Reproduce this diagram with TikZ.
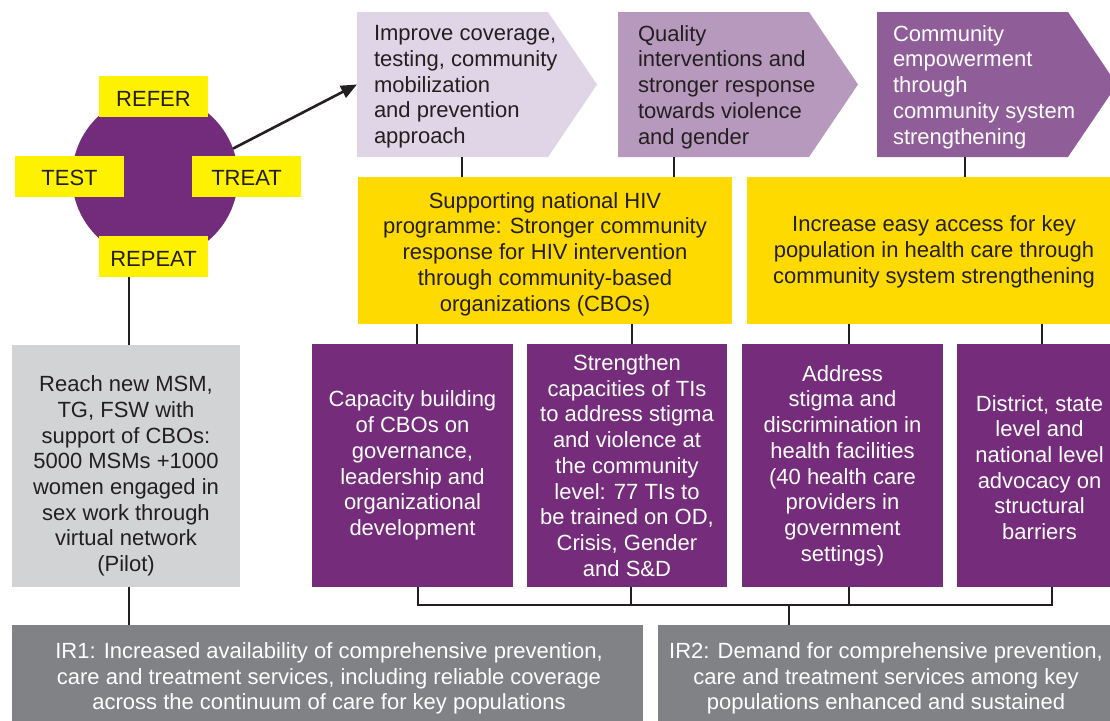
\documentclass[tikz,border=0pt]{standalone}
\usepackage{fontspec}
\setmainfont{Liberation Sans}
\usetikzlibrary{arrows.meta}
\definecolor{ink}{HTML}{231F20}
\definecolor{tagyellow}{HTML}{FFF200}
\definecolor{hubpurple}{HTML}{732C7B}
\definecolor{paleGrey}{HTML}{D1D3D4}
\definecolor{chevA}{HTML}{DFD5E6}
\definecolor{chevB}{HTML}{B899BE}
\definecolor{chevC}{HTML}{8F5E99}
\definecolor{goldbox}{HTML}{FFDA00}
\definecolor{deepPurple}{HTML}{742C7B}
\definecolor{irGrey}{HTML}{808285}
\begin{document}
\begin{tikzpicture}[x=1pt,y=-1pt,
  every node/.style={font=\fontsize{22}{25.7}\selectfont, inner sep=0pt, outer sep=0pt},
  tag/.style={fill=tagyellow, minimum width=109pt, minimum height=41pt},
  panel/.style={minimum height=#1},
  label text/.style={align=center},
  chevbox/.style={minimum width=191pt, minimum height=145pt},
  chevtext/.style={anchor=west, align=left},
  link/.style={draw=ink, line width=2.6pt}
]
\useasboundingbox (0,0) rectangle (1110,720);

% test-treat-refer-repeat hub
\node[circle, fill=hubpurple, minimum size=166pt] (hub) at (155,177) {};
\node[tag] (refer)  at (153.5,96.5) {};
\node[tag] (test)   at (69.5,176)   {};
\node[tag] (treat)  at (246.5,176)  {};
\node[tag] (repeat) at (153.5,256.5) {};
\node[text=ink] (referT)  at (153.5,98.5) {REFER};
\node[text=ink] (testT)   at (69.5,178)   {TEST};
\node[text=ink] (treatT)  at (246.5,178)  {TREAT};
\node[text=ink] (repeatT) at (153.5,258.5) {REPEAT};

% pilot box
\node[panel=242pt, minimum width=228pt, fill=paleGrey] (reach) at (126,466) {};
\node[label text, text=ink] (reachT) at (126,476)
  {Reach new MSM,\\TG, FSW with\\support of CBOs:\\5000 MSMs +1000\\women engaged in\\sex work through\\virtual network\\(Pilot)};

% chevrons
\node[chevbox] (c1) at (452.5,84.5) {};
\node[chevbox] (c2) at (713.5,84.5) {};
\node[chevbox] (c3) at (972.5,84.5) {};
\fill[chevA] (c1.north west) -- (c1.north east) -- ([xshift=49pt]c1.east) -- (c1.south east) -- (c1.south west) -- cycle;
\fill[chevB] (c2.north west) -- (c2.north east) -- ([xshift=49pt]c2.east) -- (c2.south east) -- (c2.south west) -- cycle;
\fill[chevC] (c3.north west) -- (c3.north east) -- ([xshift=49pt]c3.east) -- (c3.south east) -- (c3.south west) -- cycle;
\node[chevtext, text=ink] (c1t) at (374,87)
  {Improve coverage,\\testing, community\\mobilization\\and prevention\\approach};
\node[chevtext, text=ink] (c2t) at (638,87)
  {Quality\\interventions and\\stronger response\\towards violence\\and gender};
\node[chevtext, text=white] (c3t) at (893,87)
  {Community\\empowerment\\through\\community system\\strengthening};

% strategy boxes
\node[panel=147pt, minimum width=374pt, fill=goldbox] (y1) at (545,250.5) {};
\node[panel=147pt, minimum width=374pt, fill=goldbox] (y2) at (934,250.5) {};
\node[label text, text=ink] (y1T) at (545,254)
  {Supporting national HIV\\programme: Stronger community\\response for HIV intervention\\through community-based\\organizations (CBOs)};
\node[label text, text=ink] (y2T) at (934,252)
  {Increase easy access for key\\population in health care through\\community system strengthening};

% activity boxes
\node[panel=243pt, minimum width=201pt, fill=deepPurple] (p1) at (412.5,465.5) {};
\node[panel=243pt, minimum width=200pt, fill=deepPurple] (p2) at (627,465.5) {};
\node[panel=243pt, minimum width=201pt, fill=deepPurple] (p3) at (842.5,465.5) {};
\node[panel=243pt, minimum width=165pt, fill=deepPurple] (p4) at (1039.5,465.5) {};
\node[label text, text=white] (p1T) at (412.5,465.5)
  {Capacity building\\of CBOs on\\governance,\\leadership and\\organizational\\development};
\node[label text, text=white] (p2T) at (627,465.5)
  {Strengthen\\capacities of TIs\\to address stigma\\and violence at\\the community\\level: 77 TIs to\\be trained on OD,\\Crisis, Gender\\and S\&D};
\node[label text, text=white] (p3T) at (842.5,465.5)
  {Address\\stigma and\\discrimination in\\health facilities\\(40 health care\\providers in\\government\\settings)};
\node[label text, text=white] (p4T) at (1039.5,467.5)
  {District, state\\level and\\national level\\advocacy on\\structural\\barriers};

% results
\node[panel=100pt, minimum width=631pt, fill=irGrey] (ir1) at (327.5,675) {};
\node[panel=100pt, minimum width=452pt, fill=irGrey] (ir2) at (884,675) {};
\node[label text, text=white] (ir1T) at (329,678.5)
  {IR1: Increased availability of comprehensive prevention,\\care and treatment services, including reliable coverage\\across the continuum of care for key populations};
\node[label text, text=white] (ir2T) at (886,678.5)
  {IR2: Demand for comprehensive prevention,\\care and treatment services among key\\populations enhanced and sustained};

% connectors
\draw[link, -{Triangle[length=16pt,width=13pt]}] (hub.20) -- (c1.west);
\draw[link] ([xshift=3pt]reach.north) -- ([xshift=3pt]reach.north |- repeat.south);
\draw[link] ([xshift=3pt]reach.south) -- ([xshift=3pt]reach.south |- ir1.north);

\draw[link] ([xshift=9.5pt]c1.south) -- ([xshift=9.5pt]c1.south |- y1.north);
\draw[link] ([xshift=-39.5pt]c2.south) -- ([xshift=-39.5pt]c2.south |- y1.north);
\draw[link] ([xshift=-7.5pt]c3.south) -- ([xshift=-7.5pt]c3.south |- y2.north);

\draw[link] ([xshift=4.5pt]p1.north) -- ([xshift=4.5pt]p1.north |- y1.south);
\draw[link] ([xshift=5pt]p2.north) -- ([xshift=5pt]p2.north |- y1.south);
\draw[link] ([xshift=6.5pt]p3.north) -- ([xshift=6.5pt]p3.north |- y2.south);
\draw[link] ([xshift=2.5pt]p4.north) -- ([xshift=2.5pt]p4.north |- y2.south);

\coordinate (bus) at (789,605);
\draw[link] ([xshift=5.5pt]p1.south) |- (bus) -| ([xshift=12.5pt]p4.south);
\draw[link] ([xshift=4pt]p2.south) -- ([xshift=4pt]p2.south |- bus);
\draw[link] ([xshift=6.5pt]p3.south) -- ([xshift=6.5pt]p3.south |- bus);
\draw[link] (bus) -- (bus |- ir2.north);
\end{tikzpicture}
\end{document}
